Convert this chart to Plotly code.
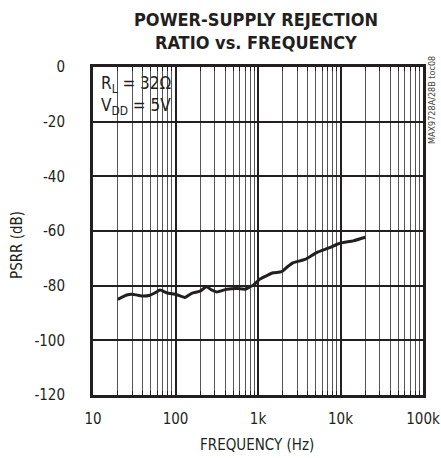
import plotly.graph_objects as go

# Data
freq_hz = [20, 25.6, 29.4, 35, 40.7, 49, 56.6, 64.9, 78, 103, 130, 157, 198, 239, 275, 316,
           418, 552, 695, 800, 877, 1057, 1300, 1532, 1935, 2300, 2677, 3715, 5140, 7110,
           9860, 14290, 20000]
psrr_db = [-85.0, -83.4, -83.1, -83.5, -83.8, -83.5, -82.6, -81.6, -82.6, -83.3, -84.3, -82.8,
           -82.0, -80.4, -81.6, -82.3, -81.3, -81.0, -81.3, -80.4, -79.8, -77.6, -76.2, -75.3,
           -74.9, -73.0, -71.6, -70.4, -67.9, -66.3, -64.5, -63.6, -62.3]

x_tickvals = [10, 100, 1000, 10000, 100000]
x_ticktext = ["10", "100", "1k", "10k", "100k"]
x_minor = [m * d for d in [10, 100, 1000, 10000] for m in range(2, 10)]
y_tickvals = [0, -20, -40, -60, -80, -100, -120]
y_ticktext = ["0", "-20", "-40", "-60", "-80", "-100", "-120"]

FONT = "DejaVu Sans Condensed, Roboto, sans-serif"
TXT = "#231f20"

L, R, T, B = 93, 423, 67, 395
PW, PH = R - L, B - T


def px(x):
    return (x - L) / PW


def py(y):
    return (B - y) / PH


fig = go.Figure()
fig.add_trace(go.Scatter(x=freq_hz, y=psrr_db, mode="lines",
                         line=dict(color="#231f20", width=3, shape="spline", smoothing=0.6),
                         showlegend=False, hoverinfo="skip"))

fig.update_layout(
    width=441, height=458,
    margin=dict(l=L, r=441 - R, t=T, b=458 - B),
    paper_bgcolor="white", plot_bgcolor="white",
    font=dict(family=FONT, color=TXT, size=14),
    xaxis=dict(type="log", range=[1, 5], tickvals=x_tickvals, ticktext=x_ticktext,
               automargin=False,
               showgrid=True, gridcolor="#231f20", gridwidth=1.5,
               minor=dict(tickvals=x_minor, showgrid=True, gridcolor="#555555", gridwidth=1.4,
                          ticks="inside", ticklen=4, tickcolor="#231f20"),
               showline=True, linecolor="#231f20", linewidth=3, mirror="ticks",
               ticks="", ticklabelstandoff=8, tickfont=dict(size=15, family=FONT, color=TXT),
               zeroline=False),
    yaxis=dict(range=[-120, 0], tickvals=y_tickvals, ticktext=y_ticktext,
               showgrid=True, gridcolor="#231f20",
               automargin=False,
               gridwidth=1.8, showline=True, linecolor="#231f20", linewidth=3, mirror=True,
               ticks="", ticklabelstandoff=22, tickfont=dict(size=15, family=FONT, color=TXT),
               zeroline=False),
)

# white box behind the conditions text
fig.add_shape(type="rect", xref="paper", yref="paper", x0=0, x1=px(166), y0=py(115), y1=1.0,
              fillcolor="white", line=dict(width=0), layer="between")

fig.add_annotation(xref="paper", yref="paper", x=px(99), y=py(71), xanchor="left", yanchor="top",
                   text="R<sub>L</sub> = 32Ω<br>V<sub>DD</sub> = 5V", showarrow=False, align="left",
                   font=dict(size=17, family=FONT, color=TXT))

# title lines
fig.add_annotation(xref="paper", yref="paper", x=px(256), y=py(20), xanchor="center",
                   yanchor="middle", text="<b>POWER-SUPPLY REJECTION</b>", showarrow=False,
                   font=dict(size=18, family=FONT, color=TXT))
fig.add_annotation(xref="paper", yref="paper", x=px(256), y=py(43), xanchor="center",
                   yanchor="middle", text="<b>RATIO vs. FREQUENCY</b>", showarrow=False,
                   font=dict(size=18, family=FONT, color=TXT))
# axis titles
fig.add_annotation(xref="paper", yref="paper", x=px(257), y=py(445), xanchor="center",
                   yanchor="middle", text="FREQUENCY (Hz)", showarrow=False,
                   font=dict(size=15, family=FONT, color=TXT))
fig.add_annotation(xref="paper", yref="paper", x=px(17), y=py(245), xanchor="center",
                   yanchor="middle", text="PSRR (dB)", showarrow=False,
                   textangle=-90, font=dict(size=15, family=FONT, color=TXT))
# side id
fig.add_annotation(xref="paper", yref="paper", x=px(432), y=py(100), xanchor="center",
                   yanchor="middle", text="MAX9728A/28B toc08", showarrow=False,
                   textangle=-90, font=dict(size=9, family=FONT, color="#444444"))

fig.write_html("out.html", config={"displayModeBar": False},
               post_script="document.body.style.margin='0';")
